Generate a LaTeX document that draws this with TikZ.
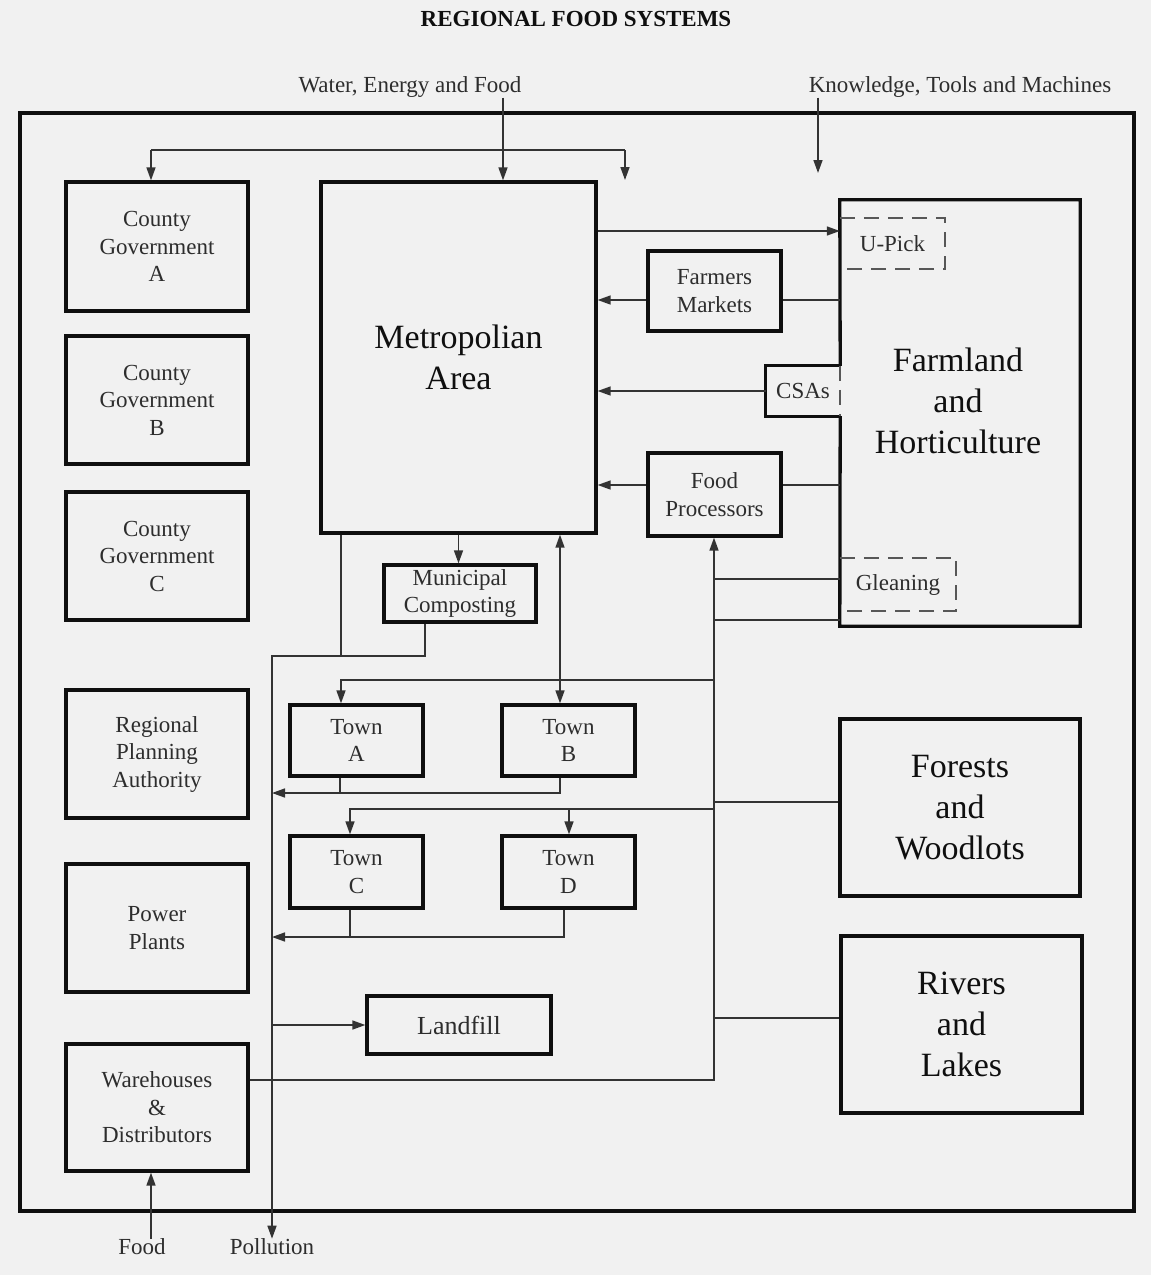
\documentclass[tikz,border=0pt]{standalone}
\usepackage{fontspec}
\setmainfont{Liberation Serif}
\usetikzlibrary{arrows.meta}
\definecolor{bg}{RGB}{241,241,241}
\definecolor{ink}{RGB}{15,15,15}
\definecolor{txt}{RGB}{45,45,45}
\newcommand\smtxt{\fontsize{23}{27.5}\selectfont}
\newcommand\bigtxt{\fontsize{34}{41}\selectfont}
\newcommand\lftxt{\fontsize{26}{30}\selectfont}
\begin{document}
\begin{tikzpicture}[x=1pt,y=-1pt,
  box/.style={draw=ink, line width=3.3pt, align=center, inner sep=0pt, text=txt, font=\smtxt},
  bigbox/.style={box, font=\bigtxt, text=ink},
  plain/.style={align=center, inner sep=0pt, text=txt, font=\smtxt},
  conn/.style={line width=1.6pt, draw=ink!85},
  arr/.style={conn, -{Triangle[length=13pt,width=9pt]}},
  darr/.style={conn, {Triangle[length=13pt,width=9pt]}-{Triangle[length=13pt,width=9pt]}},
  boxline/.style={draw=ink, line width=3.3pt},
  dashbox/.style={draw=ink!70, line width=2.2pt, dash pattern=on 15pt off 9pt},
]
\useasboundingbox (0,0) rectangle (1151,1275);
\fill[bg] (0,0) rectangle (1151,1275);

% titles and free labels
\node[plain, font=\fontsize{23}{27}\selectfont\bfseries, text=ink] (title) at (576,19) {REGIONAL FOOD SYSTEMS};
\node[plain] (wef) at (410,87) {Water, Energy and Food};
\node[plain] (ktm) at (960,87) {Knowledge, Tools and Machines};
\node[plain] (food) at (142,1247) {Food};
\node[plain] (pollution) at (272,1247) {Pollution};

% outer region
\node[draw=ink, line width=3.3pt, minimum width=1114pt, minimum height=1098pt, inner sep=0pt] (frame) at (577,662) {};

% left column
\node[box, minimum width=182pt, minimum height=129pt] (cgA) at (157,246.5) {County\\Government\\A};
\node[box, minimum width=182pt, minimum height=128pt] (cgB) at (157,400) {County\\Government\\B};
\node[box, minimum width=182pt, minimum height=128pt] (cgC) at (157,556) {County\\Government\\C};
\node[box, minimum width=182pt, minimum height=128pt] (rpa) at (157,754) {Regional\\Planning\\Authority};
\node[box, minimum width=182pt, minimum height=128pt] (pp) at (157,928) {Power\\Plants};
\node[box, minimum width=182pt, minimum height=127pt] (wd) at (157,1107.5) {Warehouses\\\&\\Distributors};

% centre
\node[bigbox, minimum width=275pt, minimum height=351pt] (metro) at (458.5,357.5) {Metropolian\\Area};
\node[box, minimum width=152pt, minimum height=57pt] (comp) at (460,593.5) {Municipal\\Composting};
\node[box, minimum width=133pt, minimum height=71pt] (townA) at (356.5,740.5) {Town\\A};
\node[box, minimum width=133pt, minimum height=71pt] (townB) at (568.5,740.5) {Town\\B};
\node[box, minimum width=133pt, minimum height=72pt] (townC) at (356.5,872) {Town\\C};
\node[box, minimum width=133pt, minimum height=72pt] (townD) at (568.5,872) {Town\\D};
\node[box, font=\lftxt, minimum width=184pt, minimum height=58pt] (landfill) at (459,1025) {Landfill};

% intermediaries
\node[box, minimum width=133pt, minimum height=80pt] (fm) at (714.5,291) {Farmers\\Markets};
\node[box, minimum width=133pt, minimum height=83pt] (fp) at (714.5,494.5) {Food\\Processors};

% farmland with CSAs, U-Pick, Gleaning
\node[minimum width=240pt, minimum height=426pt, inner sep=0pt] (farm) at (960,413) {};
\node[plain, minimum width=74pt, minimum height=50pt] (csa) at (803,391) {CSAs};
\draw[boxline] (csa.north east) -- (farm.north west) -- (farm.north east) -- (farm.south east) -- (farm.south west) -- (csa.south east);
\draw[boxline] (csa.north east) -- (csa.north west) -- (csa.south west) -- (csa.south east);
\draw[dashbox] (csa.north east) -- (csa.south east);
\node[plain, font=\bigtxt, text=ink] (farmlbl) at (958,401) {Farmland\\and\\Horticulture};
\node[plain, minimum width=105pt, minimum height=51pt] (upick) at (892.5,243.5) {U-Pick};
\draw[dashbox] (upick.north west) -- (upick.north east) -- (upick.south east) -- (upick.south west);
\node[plain, minimum width=116pt, minimum height=53pt] (glean) at (898,584.5) {Gleaning};
\draw[dashbox] (glean.north west) -- (glean.north east) -- (glean.south east) -- (glean.south west);

% natural resources
\node[bigbox, minimum width=240pt, minimum height=177pt] (forests) at (960,807.5) {Forests\\and\\Woodlots};
\node[bigbox, minimum width=241pt, minimum height=177pt] (rivers) at (961.5,1024.5) {Rivers\\and\\Lakes};

% top inputs
\coordinate (t1) at (151,150);
\coordinate (t2) at (625,150);
\coordinate (t2e) at (625,180);
\coordinate (k1) at (818,173);
\draw[conn] (t1) -- (t2);
\draw[arr] (t1) -- (t1 |- cgA.north);
\draw[arr] (t2) -- (t2e);
\draw[arr] (wef.south -| 503,0) -- (503,0 |- metro.north);
\draw[arr] (ktm.south -| k1) -- (k1);

% metropolitan right side
\draw[arr] (metro.east |- 0,231) -- (farm.west |- 0,231);
\draw[conn] (farm.west |- 0,300) -- (fm.east |- 0,300);
\draw[arr] (fm.west |- 0,300) -- (metro.east |- 0,300);
\draw[arr] (csa.west) -- (metro.east |- csa.west);
\draw[conn] (farm.west |- 0,485) -- (fp.east |- 0,485);
\draw[arr] (fp.west |- 0,485) -- (metro.east |- 0,485);

% metropolitan bottom
\coordinate (pj) at (272,656);
\draw[arr] (metro.south) -- (metro.south |- comp.north);
\draw[darr] (metro.south -| 560,0) -- (townB.north -| 560,0);
\draw[conn] (metro.south -| 341,0) -- (341,656);
\draw[arr] (comp.south -| 425,0) -- (425,656) -- (pj) -- (pollution.north);

% right trunk
\coordinate (r1) at (714,1080);
\draw[arr] (wd.east |- r1) -- (r1) -- (fp.south -| r1);
\draw[conn] (glean.west |- 0,579) -- (714,579);
\draw[conn] (farm.west |- 0,620) -- (714,620);
\draw[arr] (714,680) -- (341,680) -- (townA.north -| 341,0);
\draw[conn] (forests.west |- 0,802) -- (714,802);
\draw[arr] (714,809) -- (350,809) -- (townC.north -| 350,0);
\draw[arr] (569,809) -- (townD.north -| 569,0);
\draw[conn] (rivers.west |- 0,1018) -- (714,1018);

% town outputs
\draw[conn] (townA.south -| 340,0) -- (340,793);
\draw[arr] (townB.south -| 560,0) -- (560,793) -- (272,793);
\draw[conn] (townC.south -| 350,0) -- (350,937);
\draw[arr] (townD.south -| 564,0) -- (564,937) -- (272,937);
\draw[arr] (landfill.west -| pj) -- (landfill.west);

% food input
\draw[arr] (food.north -| 151,0) -- (wd.south -| 151,0);
\end{tikzpicture}
\end{document}
